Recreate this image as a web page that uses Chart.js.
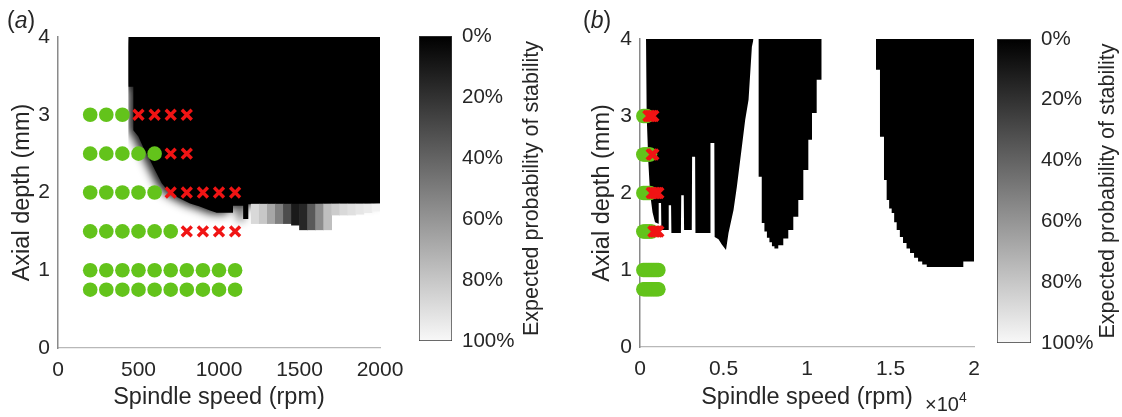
<!DOCTYPE html>
<html>
<head>
<meta charset="utf-8">
<script src="https://cdn.jsdelivr.net/npm/chart.js@4.4.1/dist/chart.umd.min.js"></script>
<style>
  body { margin: 0; background: #fff; width: 1122px; height: 417px; position: relative; overflow: hidden;
         font-family: "Liberation Sans", Arial, Helvetica, sans-serif; color: #262626; }
  canvas { position: absolute; top: 0; }
  .lab { position: absolute; font-size: 23px; line-height: 1; }
</style>
</head>
<body>
<canvas id="mapA" width="420" height="417" style="left:0"></canvas>
<canvas id="barA" width="150" height="417" style="left:410px"></canvas>
<canvas id="mapB" width="430" height="417" style="left:560px"></canvas>
<canvas id="barB" width="132" height="417" style="left:990px"></canvas>
<div class="lab" style="left:7px;top:9px">(<i>a</i>)</div>
<div class="lab" style="left:583px;top:9px">(<i>b</i>)</div>
<div class="lab" style="left:925px;top:390px;font-size:20px">×10<sup style="font-size:14px;vertical-align:9px">4</sup></div>
<script>
const FONT = '"Liberation Sans", Arial, Helvetica, sans-serif';
const ink = '#262626';

// cutting tests (spindle speed rpm, axial depth mm)
const stableX = [200, 300, 400,
  200, 300, 400, 500, 600,
  200, 300, 400, 500, 600,
  200, 300, 400, 500, 600, 700,
  200, 300, 400, 500, 600, 700, 800, 900, 1000, 1100,
  200, 300, 400, 500, 600, 700, 800, 900, 1000, 1100];
const stableY = [3, 3, 3,
  2.5, 2.5, 2.5, 2.5, 2.5,
  2, 2, 2, 2, 2,
  1.5, 1.5, 1.5, 1.5, 1.5, 1.5,
  1, 1, 1, 1, 1, 1, 1, 1, 1, 1,
  0.75, 0.75, 0.75, 0.75, 0.75, 0.75, 0.75, 0.75, 0.75, 0.75];
const chatterX = [500, 600, 700, 800, 700, 800, 700, 800, 900, 1000, 1100, 800, 900, 1000, 1100];
const chatterY = [3, 3, 3, 3, 2.5, 2.5, 2, 2, 2, 2, 2, 1.5, 1.5, 1.5, 1.5];

// (a) lower edge of the unstable (0 %) region, rpm / mm
const mapAX = [437, 437, 468, 468, 499, 530, 561, 602, 644, 696, 760, 820, 880, 944, 985, 1087, 1087, 1150, 1150, 1182, 1182, 1500, 1750, 2000];
const mapAY = [4.0, 3.36, 3.36, 2.80, 2.72, 2.58, 2.46, 2.29, 2.12, 1.99, 1.92, 1.86, 1.82, 1.77, 1.74, 1.74, 1.83, 1.83, 1.66, 1.66, 1.85, 1.85, 1.86, 1.86];
// (a) transition band below it: column centre, lower depth, probability of stability
const bandX = [1225, 1275, 1325, 1375, 1425, 1475, 1525, 1575, 1625, 1675, 1725, 1775, 1825, 1875, 1925, 1975];
const bandLo = [1.60, 1.60, 1.60, 1.60, 1.60, 1.58, 1.52, 1.52, 1.52, 1.52, 1.71, 1.71, 1.71, 1.72, 1.74, 1.76];
const bandP = [0.85, 0.78, 0.65, 0.50, 0.30, 0.10, 0.15, 0.35, 0.55, 0.75, 0.80, 0.85, 0.88, 0.90, 0.92, 0.95];
const bandTop = 1.85;

// (b) lower edges of the three unstable lobes, x in 10^4 rpm
const lobe1X = [0.036, 0.040, 0.050, 0.060, 0.075, 0.090, 0.110, 0.112, 0.126, 0.128, 0.170, 0.172, 0.186, 0.188, 0.245, 0.247, 0.262, 0.264, 0.310, 0.312, 0.330, 0.332, 0.420, 0.422, 0.445, 0.447, 0.470, 0.490, 0.515, 0.530, 0.560, 0.580, 0.610, 0.630, 0.650, 0.670, 0.680];
const lobe1Y = [4.0, 3.0, 2.4, 2.0, 1.75, 1.62, 1.60, 1.87, 1.87, 1.52, 1.52, 1.84, 1.84, 1.48, 1.48, 1.97, 1.97, 1.52, 1.52, 2.47, 2.47, 1.48, 1.48, 2.65, 2.65, 1.43, 1.40, 1.33, 1.26, 1.48, 1.78, 2.08, 2.60, 2.95, 3.21, 3.90, 4.0];
const lobe2X = [0.709, 0.729, 0.745, 0.760, 0.775, 0.790, 0.805, 0.828, 0.858, 0.888, 0.918, 0.948, 0.978, 1.008, 1.030, 1.058, 1.088];
const lobe2Y = [2.21, 1.61, 1.50, 1.42, 1.36, 1.31, 1.28, 1.32, 1.41, 1.52, 1.69, 1.91, 2.30, 2.69, 3.04, 3.47, 3.47];
const lobe3X = [1.413, 1.437, 1.461, 1.477, 1.492, 1.507, 1.522, 1.537, 1.556, 1.575, 1.596, 1.617, 1.641, 1.665, 1.690, 1.717, 1.936, 2.0];
const lobe3Y = [3.60, 2.73, 2.17, 1.91, 1.80, 1.74, 1.62, 1.52, 1.43, 1.35, 1.28, 1.22, 1.16, 1.11, 1.07, 1.04, 1.11, 1.11];

const xTicksA = [0, 500, 1000, 1500, 2000];
const xTicksB = [0, 0.5, 1, 1.5, 2];
const yTicks = [0, 1, 2, 3, 4];
const cbTicks = [0, 20, 40, 60, 80, 100];

const pts = (xs, ys, k = 1) => xs.map((x, i) => ({ x: x * k, y: ys[i] }));
const setTicks = arr => s => { s.ticks = arr.map(v => ({ value: v })); };
const gray = p => { const g = Math.round(255 * p); return `rgb(${g},${g},${g})`; };

const region = (xs, ys, stepped) => ({
  type: 'line', data: pts(xs, ys), fill: 'end', backgroundColor: '#000',
  borderColor: 'rgba(0,0,0,0)', borderWidth: 0, pointRadius: 0, tension: 0,
  stepped: !!stepped, order: 5
});
const tests = k => [
  { type: 'scatter', data: pts(chatterX, chatterY, k), pointStyle: 'crossRot', pointRadius: 7,
    borderColor: '#f01414', borderWidth: 3.4, clip: false, order: 1 },
  { type: 'scatter', data: pts(stableX, stableY, k), pointStyle: 'circle', pointRadius: 7.3,
    backgroundColor: '#63c31b', borderWidth: 0, clip: false, order: 2 }
];

function axes(xMax, xTicks, yW, yTitlePad, xH) {
  return {
    x: {
      type: 'linear', min: 0, max: xMax, offset: false,
      grid: { display: false, drawTicks: false, offset: false },
      border: { color: '#b8b8b8', width: 1.2 },
      afterBuildTicks: setTicks(xTicks),
      ticks: { color: ink, font: { family: FONT, size: 21 }, padding: 10, maxRotation: 0, autoSkip: false,
               callback: v => String(v) },
      title: { display: true, text: 'Spindle speed (rpm)', color: ink, font: { family: FONT, size: 23.5 },
               padding: { top: 0, bottom: 5 } },
      afterFit: s => { s.height = xH; }
    },
    y: {
      type: 'linear', min: 0, max: 4,
      grid: { display: false, drawTicks: false },
      border: { color: '#8a8a8a', width: 1.5 },
      afterBuildTicks: setTicks(yTicks),
      ticks: { color: ink, font: { family: FONT, size: 21 }, padding: 8, callback: v => String(v) },
      title: { display: true, text: 'Axial depth (mm)', color: ink, font: { family: FONT, size: 23.5 },
               padding: { top: yTitlePad } },
      afterFit: s => { s.width = yW; }
    }
  };
}

// soft edge of the interpolated map in (a): shadow is switched on while the filler draws
const softEdge = {
  id: 'softEdge',
  beforeRender(chart) {
    const c = chart.ctx;
    c.save();
    c.shadowColor = 'rgba(0,0,0,0.9)';
    c.shadowBlur = 10;
    c.shadowOffsetX = -5;
    c.shadowOffsetY = 1;
  },
  beforeDraw(chart) { chart.ctx.restore(); }
};

new Chart(document.getElementById('mapA'), {
  type: 'bar',
  data: {
    datasets: [
      ...tests(1),
      { type: 'bar', data: bandX.map((x, i) => ({ x, y: [bandLo[i], bandTop] })),
        backgroundColor: bandP.map(gray), borderWidth: 0, barPercentage: 1, categoryPercentage: 1, order: 6 },
      region(mapAX, mapAY)
    ]
  },
  options: {
    responsive: false, animation: false, events: [],
    layout: { padding: { top: 37, right: 40, left: 0, bottom: 0 } },
    plugins: { legend: { display: false }, tooltip: { enabled: false }, filler: { drawTime: 'beforeDraw' } },
    scales: axes(2000, xTicksA, 58, 8, 69)
  },
  plugins: [softEdge]
});

new Chart(document.getElementById('mapB'), {
  type: 'bar',
  data: {
    datasets: [
      ...tests(1e-4),
      region(lobe1X, lobe1Y),
      region(lobe2X, lobe2Y, true),
      region(lobe3X, lobe3Y, true)
    ]
  },
  options: {
    responsive: false, animation: false, events: [],
    layout: { padding: { top: 39, right: 16, left: 0, bottom: 0 } },
    plugins: { legend: { display: false }, tooltip: { enabled: false } },
    scales: axes(2, xTicksB, 80, 28, 70)
  }
});

const cbTitle = {
  id: 'cbTitle',
  afterDraw(chart, args, opts) {
    const { ctx, chartArea } = chart;
    ctx.save();
    ctx.translate(opts.x, (chartArea.top + chartArea.bottom) / 2);
    ctx.rotate(-Math.PI / 2);
    ctx.font = `21.5px ${FONT}`;
    ctx.fillStyle = ink;
    ctx.textAlign = 'center';
    ctx.textBaseline = 'middle';
    ctx.fillText('Expected probability of stability', 0, 0);
    ctx.restore();
  }
};

function colorbar(id, padLeft, padTop, padBottom, axisW, titleX) {
  return new Chart(document.getElementById(id), {
    type: 'bar',
    data: {
      labels: [''],
      datasets: [{
        data: [[cbTicks[0], cbTicks[cbTicks.length - 1]]],
        backgroundColor: ctx => {
          const a = ctx.chart.chartArea;
          if (!a) return '#888';
          const g = ctx.chart.ctx.createLinearGradient(0, a.top, 0, a.bottom);
          g.addColorStop(0, '#000');
          g.addColorStop(1, '#f8f8f8');
          return g;
        },
        borderColor: '#3a3a3a', borderWidth: 1, borderSkipped: false,
        barPercentage: 1, categoryPercentage: 1
      }]
    },
    options: {
      responsive: false, animation: false, events: [],
      layout: { padding: { left: padLeft, top: padTop, bottom: padBottom, right: 0 } },
      plugins: { legend: { display: false }, tooltip: { enabled: false }, cbTitle: { x: titleX } },
      scales: {
        x: { display: false },
        y: {
          position: 'right', reverse: true, min: 0, max: 100,
          afterBuildTicks: setTicks(cbTicks),
          ticks: { color: ink, font: { family: FONT, size: 20.5 }, padding: 10, callback: v => v + '%' },
          grid: { display: false, drawTicks: false },
          border: { display: false },
          afterFit: s => { s.width = axisW; }
        }
      }
    },
    plugins: [cbTitle]
  });
}

colorbar('barA', 9, 36, 76, 108, 122);
colorbar('barB', 7, 39, 74, 91, 118);
</script>
</body>
</html>
